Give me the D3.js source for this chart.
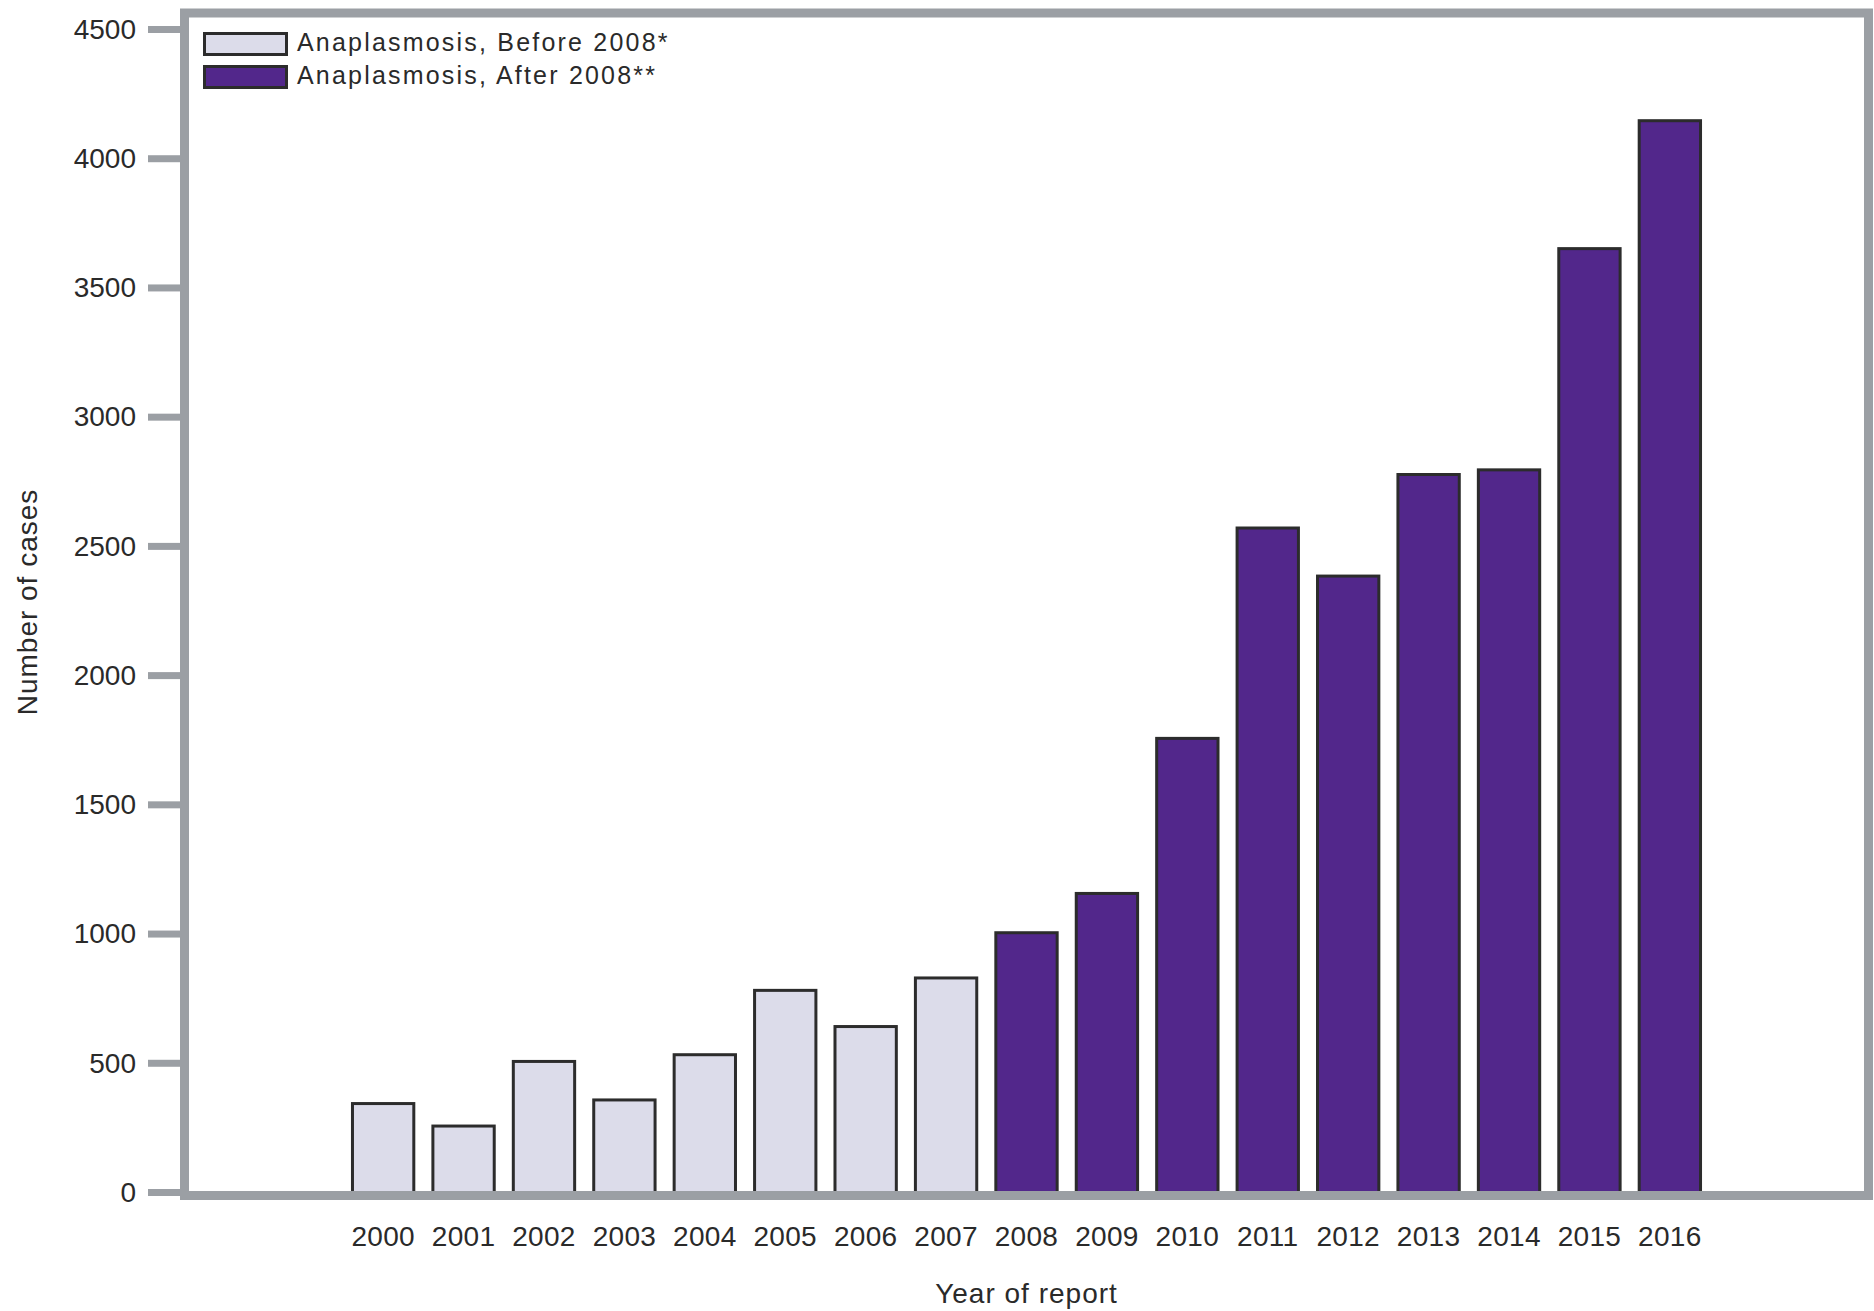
<!DOCTYPE html>
<html>
<head>
<meta charset="utf-8">
<script src="https://cdn.jsdelivr.net/npm/d3@7"></script>
<style>
  body { margin: 0; background: #fff; }
  text { font-family: "Liberation Sans", Arial, sans-serif; fill: #2a2a2a; }
  .yAxis .tick line { stroke: #9b9fa4; stroke-width: 7; }
  .axis path.domain { display: none; }
  .axis text { font-size: 28px; }
</style>
</head>
<body>
<div id="main-svg"></div>
<script>
// anaplasmosis cases by year of report
var yearsBefore = ['2000','2001','2002','2003','2004','2005','2006','2007'];
var casesBefore = [348, 261, 511, 362, 537, 786, 646, 834];
var yearsAfter = ['2008','2009','2010','2011','2012','2013','2014','2015','2016'];
var casesAfter = [1009, 1161, 1761, 2575, 2389, 2782, 2800, 3656, 4151];
var yTicks = [0, 500, 1000, 1500, 2000, 2500, 3000, 3500, 4000, 4500];
var seriesNames = ['Anaplasmosis, Before 2008*', 'Anaplasmosis, After 2008**'];

var width = 1874;
var height = 1311;

var colors = ['#dcdcea', '#52278b'];

var svg = d3.select('#main-svg').append('svg')
  .attr('width', width)
  .attr('height', height);

const plot = { left: 184.5, right: 1868.5, top: 13, bottom: 1195.5 };

let bars = yearsBefore.map((d, i) => ({year: d, value: casesBefore[i], s: 0}))
  .concat(yearsAfter.map((d, i) => ({year: d, value: casesAfter[i], s: 1})));

let x = d3.scaleBand()
  .domain(bars.map(d => d.year))
  .range([plot.left, plot.right])
  .paddingInner(0.2)
  .paddingOuter(2.07);

let y = d3.scaleLinear()
  .domain([0, 4500])
  .range([1192, 29]);

svg.selectAll('rect.bar')
  .data(bars)
  .enter()
  .append('rect')
  .attr('class', 'bar')
  .attr('x', d => x(d.year) + 1.5)
  .attr('width', x.bandwidth() - 3)
  .attr('y', d => y(d.value) + 1.5)
  .attr('height', d => y(0) - y(d.value))
  .style('fill', d => colors[d.s])
  .style('stroke', '#2c2c2c')
  .style('stroke-width', 3);

// frame round the plot
svg.append('rect')
  .attr('x', plot.left)
  .attr('y', plot.top)
  .attr('width', plot.right - plot.left)
  .attr('height', plot.bottom - plot.top)
  .style('fill', 'none')
  .style('stroke', '#9b9fa4')
  .style('stroke-width', 9);

svg.append('g')
  .attr('class', 'axis yAxis')
  .attr('transform', 'translate(180,0)')
  .call(d3.axisLeft(y).tickValues(yTicks).tickSize(32).tickPadding(12).tickFormat(d3.format('d')))
  .selectAll('text')
  .attr('dy', '0.33em');

svg.append('g')
  .attr('class', 'axis xAxis')
  .attr('transform', `translate(0,${y(0)})`)
  .call(d3.axisBottom(x).tickSize(0).tickPadding(34))
  .selectAll('text')
  .style('letter-spacing', '0.3px');

svg.append('text')
  .attr('x', (plot.left + plot.right) / 2)
  .attr('y', 1303)
  .style('text-anchor', 'middle')
  .style('font-size', '28px')
  .style('letter-spacing', '1px')
  .text('Year of report');

svg.append('text')
  .attr('transform', 'translate(37,602) rotate(-90)')
  .style('text-anchor', 'middle')
  .style('font-size', '28px')
  .style('letter-spacing', '1px')
  .text('Number of cases');

// legend
let legend = svg.selectAll('g.legend')
  .data(seriesNames)
  .enter()
  .append('g')
  .attr('class', 'legend')
  .attr('transform', (d, i) => `translate(203,${32 + i * 33})`);

legend.append('rect')
  .attr('x', 1.5)
  .attr('y', 1.5)
  .attr('width', 82)
  .attr('height', 21)
  .style('fill', (d, i) => colors[i])
  .style('stroke', '#2c2c2c')
  .style('stroke-width', 3);

legend.append('text')
  .attr('x', 94)
  .attr('y', 19)
  .style('font-size', '25px')
  .style('letter-spacing', '2.2px')
  .text(d => d);
</script>
</body>
</html>
